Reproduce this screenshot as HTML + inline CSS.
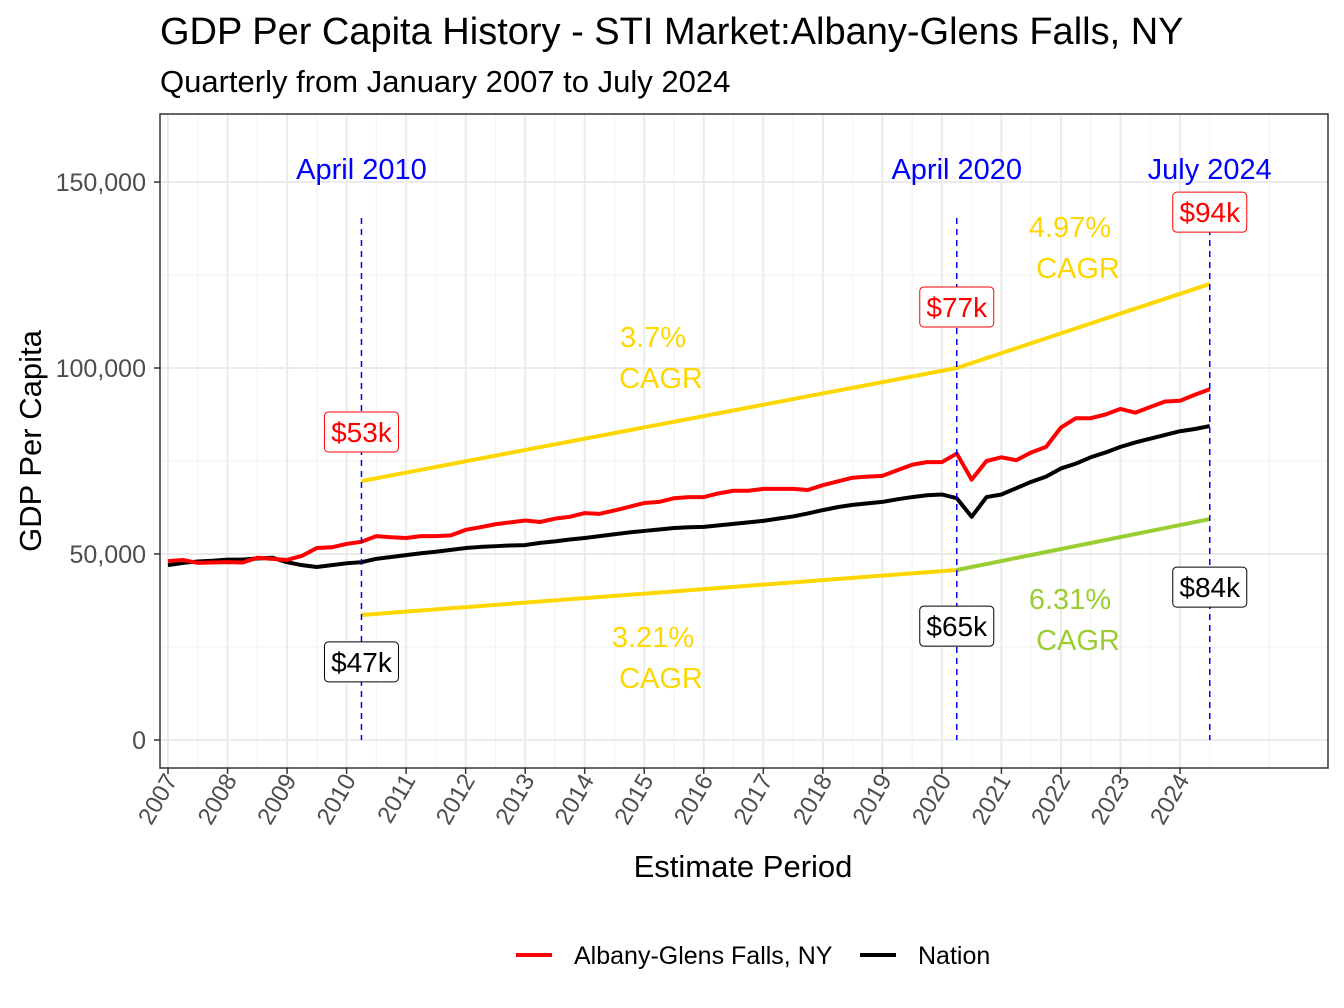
<!DOCTYPE html>
<html><head><meta charset="utf-8">
<style>
body{margin:0;background:#fff;}
svg{display:block;font-family:"Liberation Sans",Arial,sans-serif;}
</style></head>
<body>
<svg id="chart" width="1344" height="1008" xmlns="http://www.w3.org/2000/svg">
<text x="160" y="44" font-size="38" fill="#000">GDP Per Capita History - STI Market:Albany-Glens Falls, NY</text>
<text x="160" y="92" font-size="31" fill="#000">Quarterly from January 2007 to July 2024</text>
<g id="plot"></g>
<text x="743" y="877" font-size="31" text-anchor="middle">Estimate Period</text>
<text transform="translate(41,441) rotate(-90)" font-size="31" text-anchor="middle">GDP Per Capita</text>
<g>
<line x1="516" y1="955" x2="552" y2="955" stroke="#ff0000" stroke-width="4"/>
<text x="574" y="964" font-size="25">Albany-Glens Falls, NY</text>
<line x1="860" y1="955" x2="896" y2="955" stroke="#000" stroke-width="4"/>
<text x="918" y="964" font-size="25">Nation</text>
</g>
</svg>
<script>
const startYear = 2007;
const albany = [48100,48400,47600,47700,47800,47700,49000,48700,48400,49500,51600,51800,52700,53300,54800,54500,54300,54800,54800,55000,56500,57200,58000,58500,59000,58600,59500,60000,61000,60800,61700,62700,63700,64000,65000,65300,65300,66300,67000,67000,67500,67500,67500,67200,68500,69500,70500,70800,71000,72500,74000,74700,74700,77000,70000,75000,76000,75200,77300,78800,84000,86500,86500,87500,89000,88000,89500,91000,91200,92800,94300];
const nation = [47000,47600,48000,48200,48500,48500,48800,49000,47800,47000,46500,47000,47500,47800,48700,49200,49700,50200,50600,51100,51600,51900,52100,52300,52400,53000,53400,53900,54300,54800,55300,55800,56200,56600,57000,57200,57300,57700,58100,58500,58900,59500,60100,60900,61800,62600,63200,63600,64000,64700,65300,65800,66000,65000,60000,65300,66000,67700,69400,70800,73000,74300,76000,77300,78800,80000,81000,82000,83000,83600,84400];
const cagrYears = [2010.25, 2020.25, 2024.5];
const upperTrend = [69600, 100000, 122600];
const lowerTrend = [33600, 45700, 59400];
const markerYears = [2010.25, 2020.25, 2024.5];
const markerTitles = ["April 2010","April 2020","July 2024"];
const albanyLabels = ["$53k","$77k","$94k"];
const nationLabels = ["$47k","$65k","$84k"];
const albanyLabelPos = [82800, 116400, 141900];
const nationLabelPos = [21000, 30600, 41100];
const cagrUpper = ["3.7%","4.97%"];
const cagrLower = ["3.21%","6.31%"];
const yTicks = [0,50000,100000,150000];
const yTickLabels = ["0","50,000","100,000","150,000"];
const xTicks = [2007,2008,2009,2010,2011,2012,2013,2014,2015,2016,2017,2018,2019,2020,2021,2022,2023,2024];

const NS="http://www.w3.org/2000/svg";
const L=160,R=1328,T=114,B=768;
const x=t=>168+(t-2007)*(1180-168)/17;
const y=v=>740-v*186/50000;
const plot=document.getElementById('plot');
function mk(tag,attrs,parent){const e=document.createElementNS(NS,tag);for(const k in attrs)e.setAttribute(k,attrs[k]);(parent||plot).appendChild(e);return e;}

for(let v=25000;v<=175000;v+=50000){if(y(v)<T)continue;const g=mk('line',{x1:L,x2:R,y1:y(v),y2:y(v),stroke:'#f2f2f2','stroke-width':1});

}
for(let t=2007.5;t<2026;t+=1){if(x(t)>R)continue;const g=mk('line',{x1:x(t),x2:x(t),y1:T,y2:B,stroke:'#f2f2f2','stroke-width':1});

}
yTicks.forEach((v,i)=>{const g=mk('line',{x1:L,x2:R,y1:y(v),y2:y(v),stroke:'#ebebeb','stroke-width':2});


const tk=mk('line',{x1:L-6,x2:L,y1:y(v),y2:y(v),stroke:'#333','stroke-width':1.5});


const tx=mk('text',{x:L-14,y:y(v)+9,'font-size':25,fill:'#4d4d4d','text-anchor':'end'});tx.textContent=yTickLabels[i];

});
xTicks.forEach(t=>{const g=mk('line',{x1:x(t),x2:x(t),y1:T,y2:B,stroke:'#ebebeb','stroke-width':2});


const tk=mk('line',{x1:x(t),x2:x(t),y1:B,y2:B+6,stroke:'#333','stroke-width':1.5});


const tx=mk('text',{transform:`translate(${x(t)+10},${B+12}) rotate(-60)`,'font-size':24,fill:'#4d4d4d','text-anchor':'end'});tx.textContent=t;

});
const frame=mk('rect',{x:L,y:T,width:R-L,height:B-T,fill:'none',stroke:'#333','stroke-width':1.5});



function trend(vals,seg,color,name){const a=cagrYears[seg],b=cagrYears[seg+1];
const p=mk('line',{x1:x(a),y1:y(vals[seg]),x2:x(b),y2:y(vals[seg+1]),stroke:color,'stroke-width':4});

}
trend(upperTrend,0,'#ffd700','cagr-trend-albany-2010-2020');
trend(upperTrend,1,'#ffd700','cagr-trend-albany-2020-2024');
trend(lowerTrend,0,'#ffd700','cagr-trend-nation-2010-2020');
trend(lowerTrend,1,'#9acd32','cagr-trend-nation-2020-2024');

function series(vals,color,name){const d=vals.map((v,i)=>(i?'L':'M')+x(startYear+i/4)+','+y(v)).join('');
const p=mk('path',{d,fill:'none',stroke:color,'stroke-width':4,'stroke-linejoin':'round'});

}
series(nation,'#000','line-nation');
series(albany,'#ff0000','line-albany');

function box(cx,cy,txt,color,name){const w=txt.length*14+18;const r=mk('rect',{x:cx-w/2,y:cy-20,width:w,height:40,rx:4,fill:'#fff',stroke:color,'stroke-width':1});


const t=mk('text',{x:cx,y:cy+10,'font-size':28,fill:color,'text-anchor':'middle'});t.textContent=txt;

}
markerYears.forEach((t,i)=>{const l=mk('line',{x1:x(t),x2:x(t),y1:218,y2:740,stroke:'#0000ff','stroke-width':1.5,'stroke-dasharray':'6,5'});


const tt=mk('text',{x:x(t),y:179,'font-size':29,fill:'#0000ff','text-anchor':'middle'});tt.textContent=markerTitles[i];

});
markerYears.forEach((t,i)=>{
box(x(t),y(albanyLabelPos[i]),albanyLabels[i],'#ff0000','albany-value-label');
box(x(t),y(nationLabelPos[i]),nationLabels[i],'#000','nation-value-label');});
function cagrText(cx,cy,pct,color,name){const a=mk('text',{x:cx,y:cy,'font-size':29,fill:color,'text-anchor':'middle'});a.textContent=pct;


const b=mk('text',{x:cx+8,y:cy+41,'font-size':29,fill:color,'text-anchor':'middle'});b.textContent='CAGR';

}
cagrText(653,347,cagrUpper[0],'#ffd700','cagr-albany-2010-2020');
cagrText(1070,237,cagrUpper[1],'#ffd700','cagr-albany-2020-2024');
cagrText(653,647,cagrLower[0],'#ffd700','cagr-nation-2010-2020');
cagrText(1070,609,cagrLower[1],'#9acd32','cagr-nation-2020-2024');
</script>
</body></html>
